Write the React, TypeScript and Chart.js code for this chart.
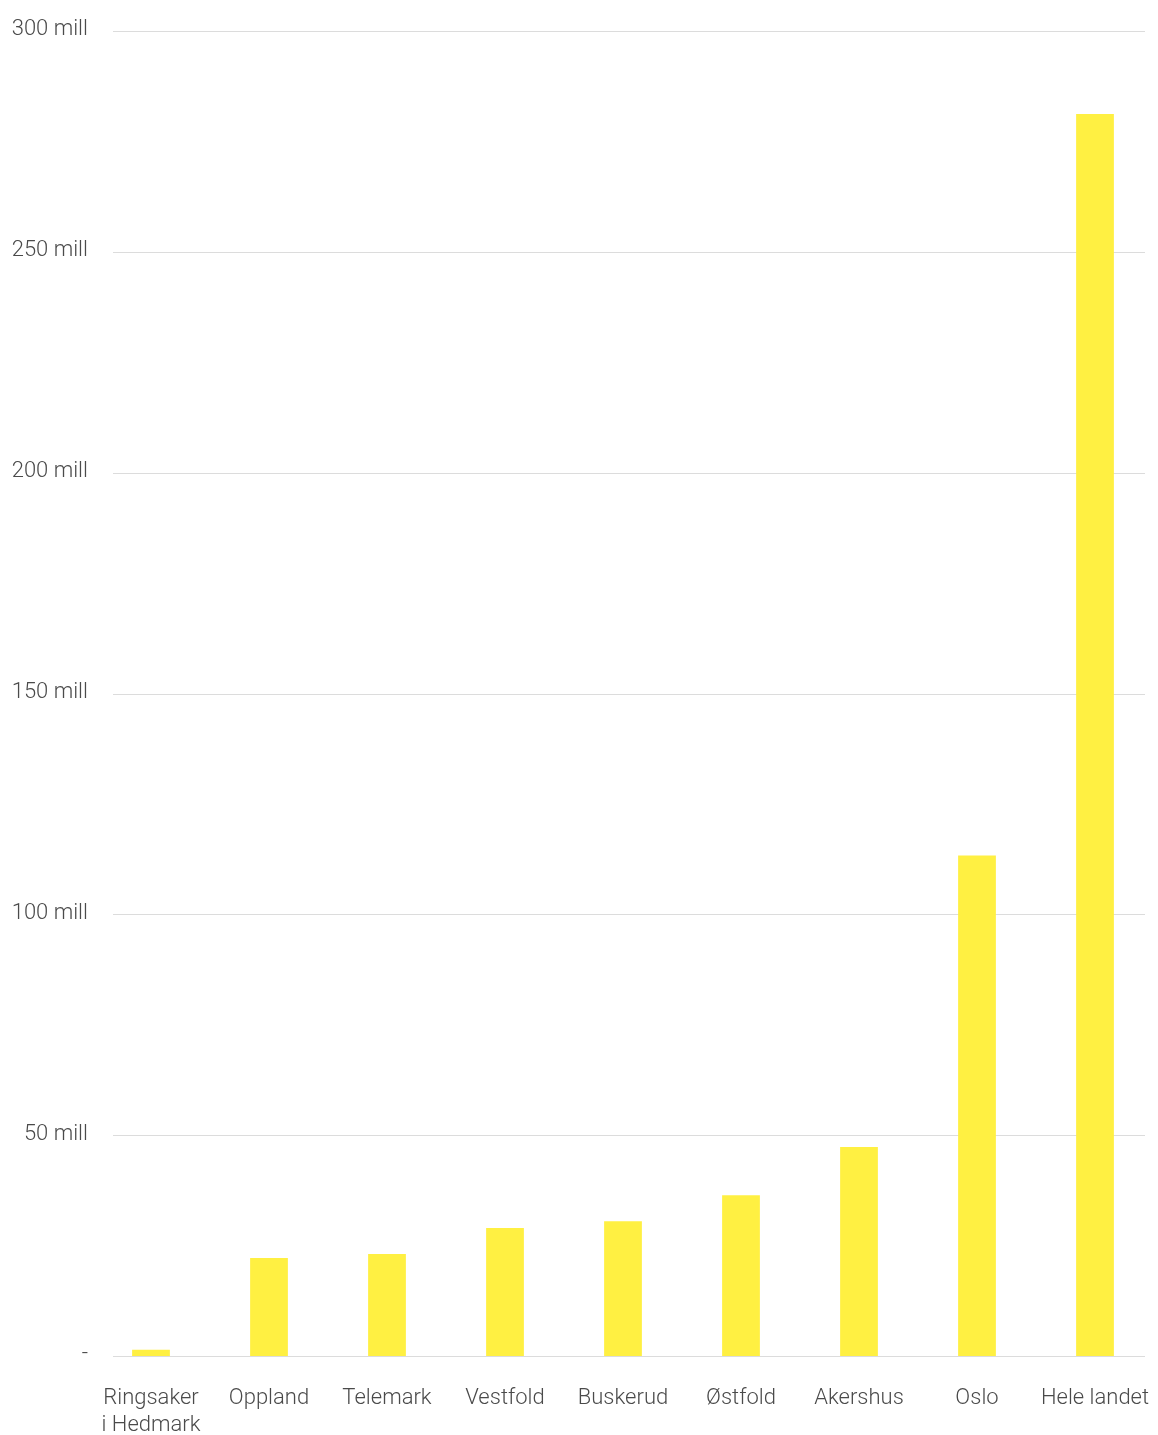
import React, { useEffect, useRef } from "react";
import { Chart, registerables } from "chart.js";

Chart.register(...registerables);

const categories: (string | string[])[] = [
  ["Ringsaker", "i Hedmark"],
  "Oppland",
  "Telemark",
  "Vestfold",
  "Buskerud",
  "Østfold",
  "Akershus",
  "Oslo",
  "Hele landet",
];

const valuesMill: number[] = [1.4, 22.2, 23.1, 29.0, 30.5, 36.4, 47.3, 113.3, 281.2];

const yTickValues: number[] = [0, 50, 100, 150, 200, 250, 300];

const FONT = "'Roboto Light', Roboto, sans-serif";

const gridPlugin = {
  id: "insetGrid",
  beforeDatasetsDraw(chart: any) {
    const { ctx, chartArea, scales } = chart;
    const y = scales.y;
    const left = chartArea.left + 21;
    const right = chartArea.right - 9;
    ctx.save();
    ctx.strokeStyle = "#dcdcdc";
    ctx.lineWidth = 1;
    y.ticks.forEach((t: any) => {
      const py = Math.round(y.getPixelForValue(t.value)) + 0.5;
      ctx.beginPath();
      ctx.moveTo(left, py);
      ctx.lineTo(right, py);
      ctx.stroke();
    });
    ctx.restore();
  },
};

export default function App() {
  const ref = useRef<HTMLCanvasElement | null>(null);

  useEffect(() => {
    document.body.style.margin = "0";
    document.body.style.overflow = "hidden";
    if (!ref.current) return;
    const chart = new Chart(ref.current, {
      type: "bar",
      data: {
        labels: categories,
        datasets: [
          {
            data: valuesMill,
            backgroundColor: "#FFF042",
            borderWidth: 0,
            categoryPercentage: 1,
            barPercentage: 0.32,
          },
        ],
      },
      options: {
        animation: false,
        responsive: false,
        maintainAspectRatio: false,
        devicePixelRatio: 1,
        layout: { padding: { top: 31, right: 4, bottom: 0, left: 0 } },
        plugins: {
          legend: { display: false },
          tooltip: { enabled: false },
        },
        scales: {
          x: {
            afterFit(scale: any) {
              scale.height = 79;
              scale.paddingLeft = 0;
              scale.paddingRight = 0;
            },
            grid: { display: false, drawTicks: false },
            border: { display: false },
            ticks: {
              color: "#4a4a4a",
              font: { family: FONT, size: 22, weight: 300 as any, lineHeight: 1.22 },
              padding: 28,
              maxRotation: 0,
              autoSkip: false,
            },
          },
          y: {
            min: 0,
            max: 300,
            afterBuildTicks(scale: any) {
              scale.ticks = yTickValues.map((v) => ({ value: v }));
            },
            afterFit(scale: any) {
              scale.width = 92;
              scale.paddingTop = 0;
              scale.paddingBottom = 0;
            },
            grid: { display: false, drawTicks: false },
            border: { display: false },
            ticks: {
              color: "#4a4a4a",
              font: { family: FONT, size: 22, weight: 300 as any },
              padding: 4,
              labelOffset: -2,
              callback: (v: any) => (Number(v) === 0 ? "-" : `${v} mill`),
            },
          },
        },
      },
      plugins: [gridPlugin],
    });
    return () => chart.destroy();
  }, []);

  return (
    <div style={{ position: "absolute", left: 0, top: 0, width: 1158, height: 1435, overflow: "hidden" }}>
      <canvas ref={ref} width={1158} height={1435} style={{ display: "block", width: 1158, height: 1435 }} />
    </div>
  );
}
